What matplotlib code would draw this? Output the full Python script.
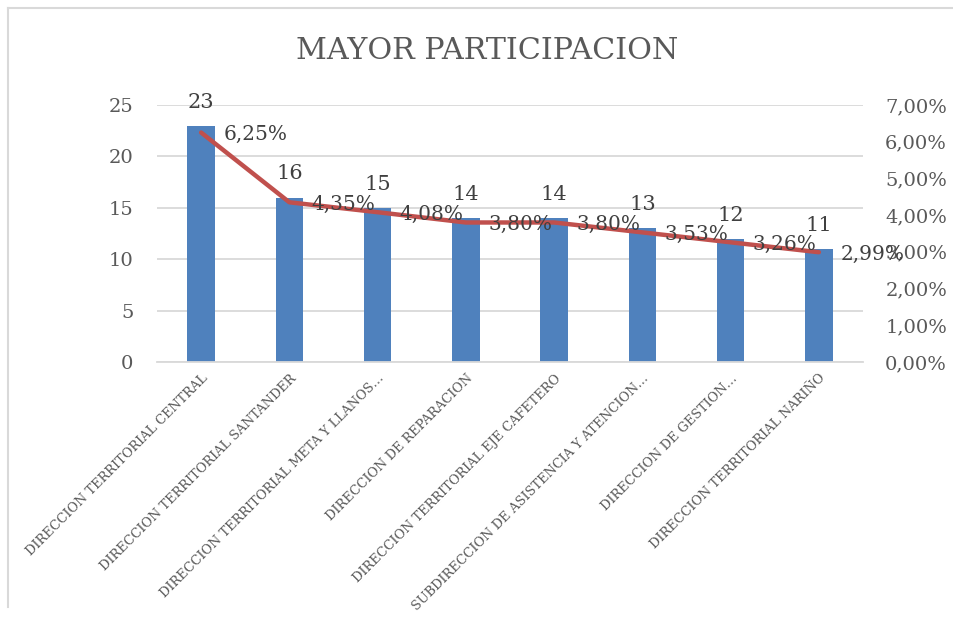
import numpy as np
import matplotlib
matplotlib.use("Agg")
import matplotlib.pyplot as plt
from matplotlib.lines import Line2D
from matplotlib.ticker import FuncFormatter, MultipleLocator

plt.rcParams['font.family'] = ['DejaVu Serif']

categorias = [
    "DIRECCION TERRITORIAL CENTRAL",
    "DIRECCION TERRITORIAL SANTANDER",
    "DIRECCION TERRITORIAL META Y LLANOS…",
    "DIRECCION DE REPARACION",
    "DIRECCION TERRITORIAL EJE CAFETERO",
    "SUBDIRECCION DE ASISTENCIA Y ATENCION…",
    "DIRECCION DE GESTION…",
    "DIRECCION TERRITORIAL NARIÑO",
]
cantidad = [23, 16, 15, 14, 14, 13, 12, 11]
participacion = [6.25, 4.35, 4.08, 3.80, 3.80, 3.53, 3.26, 2.99]  # %

AZUL = "#4F81BD"
ROJO = "#C0504D"
GRIS_TXT = "#595959"
GRIS_ETQ = "#404040"
GRIS_LIN = "#D9D9D9"

W, H = 954, 617
fig = plt.figure(figsize=(W / 100, H / 100), dpi=100)

# área de trazado en píxeles
x0, x1 = 157, 863
y_top, y_bot = 105, 362
ax = fig.add_axes([x0 / W, 1 - y_bot / H, (x1 - x0) / W, (y_bot - y_top) / H])
ax2 = ax.twinx()

x = np.arange(len(categorias))
ax.bar(x, cantidad, width=0.31, color=AZUL, zorder=2)
ax.set_xlim(-0.5, len(categorias) - 0.5)
ax.set_ylim(0, 25)
ax.yaxis.set_major_locator(MultipleLocator(5))
ax.grid(axis='y', color=GRIS_LIN, lw=1.3, zorder=0)
ax.set_axisbelow(True)

for s in ax.spines.values():
    s.set_visible(False)
for s in ax2.spines.values():
    s.set_visible(False)
ax.spines['bottom'].set_visible(True)
ax.spines['bottom'].set_color(GRIS_LIN)
ax.spines['bottom'].set_linewidth(1.3)

ax.tick_params(axis='y', length=0, pad=17, labelsize=14, labelcolor=GRIS_TXT)
ax.tick_params(axis='x', length=0, pad=7)
ax.set_xticks(x)
ax.set_xticklabels(categorias, rotation=45, ha='right', va='top',
                   rotation_mode='anchor', fontsize=9.3, color=GRIS_TXT)

# eje secundario (porcentaje)
ax2.plot(x, participacion, color=ROJO, lw=3.2, solid_capstyle='round', zorder=3)
ax2.set_ylim(0, 7)
ax2.yaxis.set_major_locator(MultipleLocator(1))
ax2.yaxis.set_major_formatter(FuncFormatter(lambda v, p: f"{v:.2f}".replace('.', ',') + "%"))
ax2.tick_params(axis='y', length=0, pad=16, labelsize=14, labelcolor=GRIS_TXT)

# etiquetas de datos
for xi, v in zip(x, cantidad):
    ax.annotate(str(v), (xi, v), xytext=(0, 13), textcoords='offset points',
                ha='center', va='baseline', fontsize=15, color=GRIS_ETQ, zorder=5)
for xi, p in zip(x, participacion):
    ax2.annotate(f"{p:.2f}".replace('.', ',') + "%", (xi, p), xytext=(16, 0),
                 textcoords='offset points', ha='left', va='center_baseline',
                 fontsize=14.5, color=GRIS_ETQ, annotation_clip=False, zorder=6)

fig.text(487 / W, 1 - 51 / H, "MAYOR PARTICIPACION", ha='center', va='center',
         fontsize=21.7, color=GRIS_TXT)

# borde del área del gráfico
fig.add_artist(Line2D([8 / W, 1], [1 - 8 / H, 1 - 8 / H], color=GRIS_LIN, lw=1.5))
fig.add_artist(Line2D([8 / W, 8 / W], [1 - 8 / H, 1 - 607 / H], color=GRIS_LIN, lw=1.5))

fig.savefig("out.png", dpi=100)
